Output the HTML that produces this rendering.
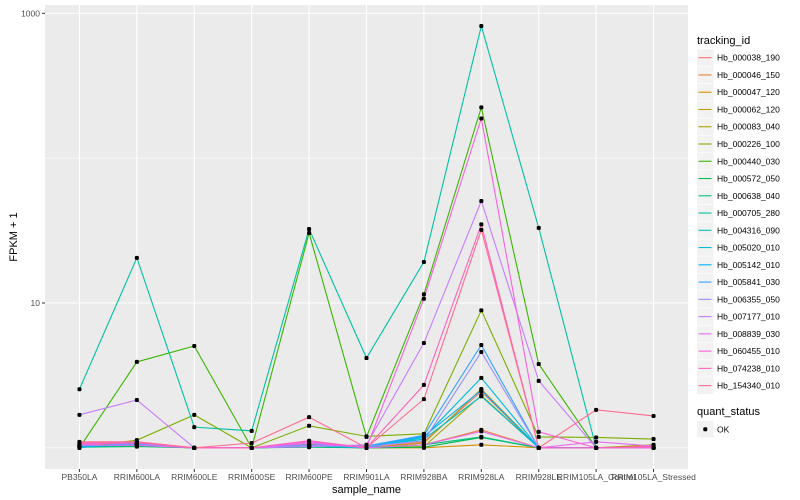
<!DOCTYPE html>
<html><head><meta charset="utf-8">
<style>
body{margin:0;background:#fff;font-family:"Liberation Sans",sans-serif;}
svg{display:block}
text{font-family:"Liberation Sans",sans-serif}
</style></head>
<body>
<svg id="chart" width="800" height="500"></svg>
<script>
const categories=["PB350LA","RRIM600LA","RRIM600LE","RRIM600SE","RRIM600PE","RRIM901LA","RRIM928BA","RRIM928LA","RRIM928LE","RRIM105LA_Control","RRIM105LA_Stressed"];
const seriesNames=["Hb_000038_190","Hb_000046_150","Hb_000047_120","Hb_000062_120","Hb_000083_040","Hb_000226_100","Hb_000440_030","Hb_000572_050","Hb_000638_040","Hb_000705_280","Hb_004316_090","Hb_005020_010","Hb_005142_010","Hb_005841_030","Hb_006355_050","Hb_007177_010","Hb_008839_030","Hb_060455_010","Hb_074238_010","Hb_154340_010"];
const seriesColors=["#F8766D","#EA8331","#D89000","#C09B00","#A3A500","#7CAE00","#39B600","#00BB4E","#00BF7D","#00C1A3","#00BFC4","#00BAE0","#00B0F6","#35A2FF","#9590FF","#C77CFF","#E76BF3","#FA62DB","#FF62BC","#FF6C91"];
const v000038=[1.05,1.08,1,1,1.06,1,1.1,2.45,1,1,1.03];
const v000046=[1.03,1.05,1,1,1.03,1,1.05,1.33,1,1,1];
const v000047=[1.02,1.03,1,1,1.02,1,1,1.05,1,1,1];
const v000062=[1.04,1.06,1,1,1.04,1,1.08,2.55,1,1,1];
const v000083=[1.02,1.04,1,1,1.02,1,1.02,2.3,1,1,1.05];
const v000226=[1,1.13,1.69,1,1.42,1.2,1.25,8.9,1.19,1.18,1.15];
const v000440=[1,3.92,5.05,1,30.4,1.19,11.5,224,3.79,1,1];
const v000572=[1.01,1.02,1,1,1.01,1,1.01,1.18,1,1,1];
const v000638=[1.02,1.03,1,1,1.03,1,1.05,1.19,1,1,1];
const v000705=[2.54,20.5,1.39,1.31,32.4,4.17,19.2,817,33,1,1];
const v004316=[1.03,1.04,1,1,1.02,1.01,1.15,2.27,1,1,1];
const v005020=[1.02,1.05,1,1,1.03,1,1.18,3.04,1,1,1];
const v005142=[1.01,1.06,1,1,1.04,1.02,1.2,2.5,1,1,1];
const v005841=[1.03,1.07,1,1,1.05,1.03,1.22,5.13,1,1,1];
const v006355=[1.04,1.05,1,1,1.04,1.02,1.12,4.59,1,1,1];
const v007177=[1.69,2.14,1,1,1.02,1.05,5.3,50.6,2.9,1,1];
const v008839=[1.05,1.04,1,1,1.08,1,1.05,1.3,1,1.1,1.03];
const v060455=[1.07,1.08,1,1,1.1,1,10.7,188,1.29,1,1];
const v074238=[1.08,1.1,1,1,1.12,1,2.72,34.9,1,1,1.02];
const v154340=[1.1,1.1,1,1.08,1.63,1,2.17,32,1,1.83,1.66];
const seriesValues=[v000038,v000046,v000047,v000062,v000083,v000226,v000440,v000572,v000638,v000705,v004316,v005020,v005142,v005841,v006355,v007177,v008839,v060455,v074238,v154340];
const yTicks=[10,1000];
const yMinor=[1,100];

const NS="http://www.w3.org/2000/svg";
const svg=document.getElementById('chart');
function mk(tag,attrs,parent){const e=document.createElementNS(NS,tag);for(const k in attrs)e.setAttribute(k,attrs[k]);(parent||svg).appendChild(e);return e;}
const PX0=45,PX1=688,PY0=5,PY1=469;
const step=(PX1-PX0)/(categories.length-1+1.2);
function xs(i){return PX0+(0.6+i)*step;}
function ys(v){return 447.85-144.85*Math.log10(v);}

const panel=mk('rect',{x:PX0,y:PY0,width:PX1-PX0,height:PY1-PY0,fill:'#EBEBEB'});


yMinor.forEach(v=>{const l=mk('line',{x1:PX0,x2:PX1,y1:ys(v),y2:ys(v),stroke:'#fff','stroke-width':0.6});

});
yTicks.forEach(v=>{const l=mk('line',{x1:PX0,x2:PX1,y1:ys(v),y2:ys(v),stroke:'#fff','stroke-width':1.1});


const t=mk('line',{x1:PX0-3,x2:PX0,y1:ys(v),y2:ys(v),stroke:'#333','stroke-width':1});


const tx=mk('text',{x:PX0-5,y:ys(v)+3,'text-anchor':'end','font-size':8.5,fill:'#4D4D4D'});tx.textContent=String(v);

});
categories.forEach((c,i)=>{const l=mk('line',{x1:xs(i),x2:xs(i),y1:PY0,y2:PY1,stroke:'#fff','stroke-width':1.1});


const t=mk('line',{x1:xs(i),x2:xs(i),y1:PY1,y2:PY1+3,stroke:'#333','stroke-width':1});


const tx=mk('text',{x:xs(i),y:480,'text-anchor':'middle','font-size':8.5,fill:'#4D4D4D'});tx.textContent=c;

});
seriesValues.forEach((vals,s)=>{
 const d=vals.map((v,i)=>(i?'L':'M')+xs(i).toFixed(2)+' '+ys(v).toFixed(2)).join(' ');
 const p=mk('path',{d:d,fill:'none',stroke:seriesColors[s],'stroke-width':1.1});
 
 
});
seriesValues.forEach((vals,s)=>{vals.forEach((v,i)=>{
 const c=mk('rect',{x:xs(i)-2,y:ys(v)-2,width:4,height:4,rx:1.3,fill:'#000'});
 
 
});});
const xt=mk('text',{x:(PX0+PX1)/2,y:493,'text-anchor':'middle','font-size':11,fill:'#000'});xt.textContent='sample_name';


const yt=mk('text',{x:0,y:0,'text-anchor':'middle','font-size':11,fill:'#000',transform:'translate(17,237) rotate(-90)'});yt.textContent='FPKM + 1';


// legend
const lt=mk('text',{x:697,y:44,'font-size':11,fill:'#000'});lt.textContent='tracking_id';


seriesNames.forEach((n,s)=>{const cy=57.7+s*17.26;
 const g=mk('g',{});
 
 
 mk('rect',{x:697,y:cy-8.3,width:16.6,height:16.6,fill:'#F2F2F2'},g);
 mk('line',{x1:698.5,x2:711.5,y1:cy,y2:cy,stroke:seriesColors[s],'stroke-width':1.1},g);
 const t=mk('text',{x:717,y:cy+3,'font-size':8.5,fill:'#000'},g);t.textContent=n;
});
const qt=mk('text',{x:697,y:415,'font-size':11,fill:'#000'});qt.textContent='quant_status';


const qg=mk('g',{});


mk('rect',{x:697,y:421,width:16.6,height:16.6,fill:'#F2F2F2'},qg);
mk('rect',{x:703.3,y:427.3,width:4,height:4,rx:1.3,fill:'#000'},qg);
const qk=mk('text',{x:717,y:432.5,'font-size':8.5,fill:'#000'},qg);qk.textContent='OK';
</script>
</body></html>
